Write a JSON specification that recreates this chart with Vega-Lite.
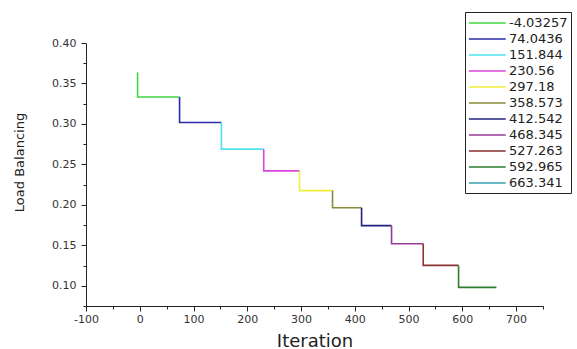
{
  "$schema": "https://vega.github.io/schema/vega-lite/v6.json",
  "autosize": "none",
  "width": 457,
  "height": 263,
  "padding": {"left": 86, "top": 43, "right": 34, "bottom": 43},
  "background": "white",
  "config": {
    "view": {"stroke": null},
    "font": "DejaVu Sans"
  },
  "data": {
    "values": [
      {"series": "-4.03257", "x": -4.03257, "y": 0.3636, "o": 0},
      {"series": "-4.03257", "x": -4.03257, "y": 0.3332, "o": 1},
      {"series": "-4.03257", "x": 74.0436, "y": 0.3332, "o": 2},
      {"series": "74.0436", "x": 74.0436, "y": 0.3332, "o": 0},
      {"series": "74.0436", "x": 74.0436, "y": 0.3017, "o": 1},
      {"series": "74.0436", "x": 151.844, "y": 0.3017, "o": 2},
      {"series": "151.844", "x": 151.844, "y": 0.3017, "o": 0},
      {"series": "151.844", "x": 151.844, "y": 0.2688, "o": 1},
      {"series": "151.844", "x": 230.56, "y": 0.2688, "o": 2},
      {"series": "230.56", "x": 230.56, "y": 0.2688, "o": 0},
      {"series": "230.56", "x": 230.56, "y": 0.2420, "o": 1},
      {"series": "230.56", "x": 297.18, "y": 0.2420, "o": 2},
      {"series": "297.18", "x": 297.18, "y": 0.2420, "o": 0},
      {"series": "297.18", "x": 297.18, "y": 0.2176, "o": 1},
      {"series": "297.18", "x": 358.573, "y": 0.2176, "o": 2},
      {"series": "358.573", "x": 358.573, "y": 0.2176, "o": 0},
      {"series": "358.573", "x": 358.573, "y": 0.1965, "o": 1},
      {"series": "358.573", "x": 412.542, "y": 0.1965, "o": 2},
      {"series": "412.542", "x": 412.542, "y": 0.1965, "o": 0},
      {"series": "412.542", "x": 412.542, "y": 0.1743, "o": 1},
      {"series": "412.542", "x": 468.345, "y": 0.1743, "o": 2},
      {"series": "468.345", "x": 468.345, "y": 0.1743, "o": 0},
      {"series": "468.345", "x": 468.345, "y": 0.1520, "o": 1},
      {"series": "468.345", "x": 527.263, "y": 0.1520, "o": 2},
      {"series": "527.263", "x": 527.263, "y": 0.1520, "o": 0},
      {"series": "527.263", "x": 527.263, "y": 0.1252, "o": 1},
      {"series": "527.263", "x": 592.965, "y": 0.1252, "o": 2},
      {"series": "592.965", "x": 592.965, "y": 0.1252, "o": 0},
      {"series": "592.965", "x": 592.965, "y": 0.0980, "o": 1},
      {"series": "592.965", "x": 663.341, "y": 0.0980, "o": 2},
      {"series": "663.341", "x": 663.341, "y": 0.0980, "o": 0}
    ]
  },
  "mark": {"type": "line", "strokeWidth": 1.6, "interpolate": "linear"},
  "encoding": {
    "x": {
      "field": "x",
      "type": "quantitative",
      "scale": {"domain": [-100, 750], "nice": false, "zero": false},
      "axis": {
        "title": "Iteration",
        "values": [-100, -50, 0, 50, 100, 150, 200, 250, 300, 350, 400, 450, 500, 550, 600, 650, 700, 750],
        "labelExpr": "datum.value % 100 === 0 && datum.value < 750 ? toString(datum.value) : ''",
        "tickSize": {"condition": {"test": "datum.value % 100 === 0", "value": 5}, "value": 3},
        "grid": false,
        "domainColor": "#222",
        "tickColor": "#222",
        "labelColor": "#333",
        "labelFont": "DejaVu Sans",
        "labelFontSize": 11,
        "labelPadding": 2,
        "labelFlush": false,
        "titleFont": "DejaVu Sans",
        "titleFontSize": 18,
        "titleFontWeight": "normal",
        "titleColor": "#222",
        "titleBaseline": "middle",
        "titleY": 35
      }
    },
    "y": {
      "field": "y",
      "type": "quantitative",
      "scale": {"domain": [0.075, 0.4], "nice": false, "zero": false},
      "axis": {
        "title": "Load Balancing",
        "values": [0.075, 0.1, 0.125, 0.15, 0.175, 0.2, 0.225, 0.25, 0.275, 0.3, 0.325, 0.35, 0.375, 0.4],
        "labelExpr": "round(datum.value * 1000) % 50 === 0 ? format(datum.value, '.2f') : ''",
        "tickSize": {"condition": {"test": "round(datum.value * 1000) % 50 === 0", "value": 5}, "value": 3},
        "grid": false,
        "domainColor": "#222",
        "tickColor": "#222",
        "labelColor": "#333",
        "labelFont": "DejaVu Sans",
        "labelFontSize": 11,
        "labelPadding": 5,
        "labelFlush": false,
        "titleFont": "DejaVu Sans",
        "titleFontSize": 13,
        "titleFontWeight": "normal",
        "titleColor": "#222",
        "titleAngle": -90,
        "titleBaseline": "middle",
        "titleAlign": "center",
        "titleX": -67,
        "titleY": 119
      }
    },
    "color": {
      "field": "series",
      "type": "nominal",
      "scale": {
        "domain": ["-4.03257", "74.0436", "151.844", "230.56", "297.18", "358.573", "412.542", "468.345", "527.263", "592.965", "663.341"],
        "range": ["#3fd83f", "#2a2aa6", "#4fe3ef", "#dd44dd", "#f2ee3a", "#8a8a3a", "#20207f", "#973a97", "#8a3030", "#2e7d2e", "#3a9fb5"]
      },
      "legend": {
        "title": null,
        "orient": "none",
        "legendX": 379,
        "legendY": -31,
        "symbolType": "M-1,0H4.2",
        "symbolSize": 200,
        "symbolStrokeWidth": 1.5,
        "strokeColor": "#222",
        "padding": 3,
        "rowPadding": 1,
        "labelFont": "DejaVu Sans",
        "labelFontSize": 13,
        "labelColor": "#222",
        "labelOffset": 25
      }
    },
    "order": {"field": "o", "type": "quantitative"}
  }
}
